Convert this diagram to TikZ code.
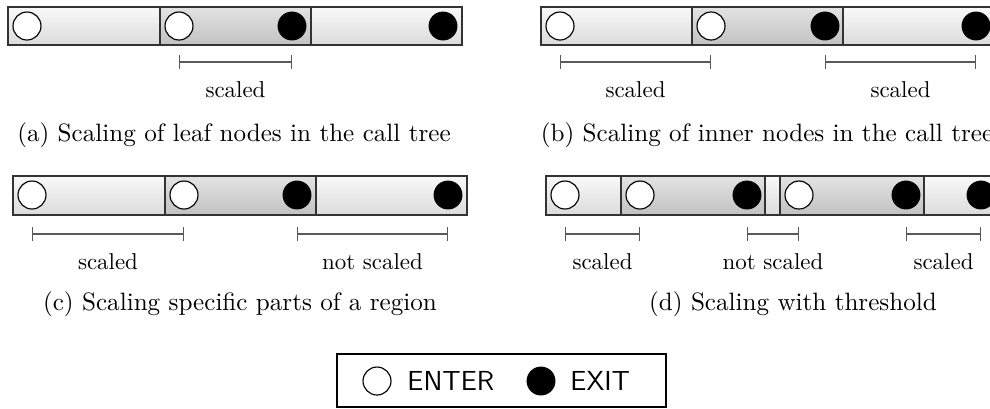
\documentclass[tikz,border=0pt]{standalone}
\usepackage{tikz}
\usetikzlibrary{arrows.meta}

\tikzset{
  segout/.style={draw=black!80, line width=0.6pt, top color=gray!5, bottom color=gray!28},
  segin/.style={draw=black!80, line width=0.6pt, top color=gray!22, bottom color=gray!48},
  enter/.style={circle, draw=black, fill=white, line width=0.5pt, minimum size=12.2pt, inner sep=0pt},
  exit/.style={circle, fill=black, minimum size=12.6pt, inner sep=0pt},
  scalebar/.style={draw=black!65, line width=0.6pt, {Bar[width=6pt]}-{Bar[width=6pt]}},
  spanlabel/.style={midway, below=5pt, text=black},
  subcap/.style={font=\fontsize{10.95}{13}\selectfont},
}

\begin{document}
\begin{tikzpicture}[x=0.436pt, y=-0.436pt]
    \useasboundingbox (0,0) rectangle (990,408);

    % (a) leaf nodes
    \foreach \l/\r/\s in {8/160/segout, 160/311/segin, 311/462/segout} {
        \draw[\s] (\l,7) rectangle (\r,45);
    }
    \node[enter] (a1) at (27,26) {};
    \node[enter] (a2) at (179,26) {};
    \node[exit] (a3) at (292,26) {};
    \node[exit] (a4) at (443,26) {};
    \draw[scalebar] (a2 |- 0,62) -- (a3 |- 0,62) node[spanlabel] {scaled};
    \node[subcap] (capa) at (234,135) {(a) Scaling of leaf nodes in the call tree};

    % (b) inner nodes
    \foreach \l/\r/\s in {541/692/segout, 692/843/segin, 843/994/segout} {
        \draw[\s] (\l,7) rectangle (\r,45);
    }
    \node[enter] (b1) at (560,26) {};
    \node[enter] (b2) at (711,26) {};
    \node[exit] (b3) at (825,26) {};
    \node[exit] (b4) at (976,26) {};
    \draw[scalebar] (b1 |- 0,62) -- (b2 |- 0,62) node[spanlabel] {scaled};
    \draw[scalebar] (b3 |- 0,62) -- (b4 |- 0,62) node[spanlabel] {scaled};
    \node[subcap] (capb) at (767,135) {(b) Scaling of inner nodes in the call tree};

    % (c) parts of a region
    \foreach \l/\r/\s in {13/165/segout, 165/316/segin, 316/467/segout} {
        \draw[\s] (\l,176) rectangle (\r,215);
    }
    \node[enter] (c1) at (32,195) {};
    \node[enter] (c2) at (184,195) {};
    \node[exit] (c3) at (297,195) {};
    \node[exit] (c4) at (448,195) {};
    \draw[scalebar] (c1 |- 0,234) -- (c2 |- 0,234) node[spanlabel] {scaled};
    \draw[scalebar] (c3 |- 0,234) -- (c4 |- 0,234) node[spanlabel] {not scaled};
    \node[subcap] (capc) at (240,304) {(c) Scaling specific parts of a region};

    % (d) threshold
    \foreach \l/\r/\s in {546/621/segout, 621/765/segin, 765/780/segout, 780/924/segin, 924/999/segout} {
        \draw[\s] (\l,176) rectangle (\r,215);
    }
    \node[enter] (d1) at (565,195) {};
    \node[enter] (d2) at (640,195) {};
    \node[exit] (d3) at (747,195) {};
    \node[enter] (d4) at (799,195) {};
    \node[exit] (d5) at (906,195) {};
    \node[exit] (d6) at (981,195) {};
    \draw[scalebar] (d1 |- 0,234) -- (d2 |- 0,234) node[spanlabel] {scaled};
    \draw[scalebar] (d3 |- 0,234) -- (d4 |- 0,234) node[spanlabel] {not scaled};
    \draw[scalebar] (d5 |- 0,234) -- (d6 |- 0,234) node[spanlabel] {scaled};
    \node[subcap] (capd) at (793,304) {(d) Scaling with threshold};

    % legend
    \draw[line width=0.6pt] (337,354) rectangle (666,407);
    \node[enter] (lgenter) at (377,381) {};
    \node[anchor=west, font=\sffamily\large, inner sep=0pt] (lgentertext) at (407,381) {ENTER};
    \node[exit] (lgexit) at (541,381) {};
    \node[anchor=west, font=\sffamily\large, inner sep=0pt] (lgexittext) at (570,381) {EXIT};
\end{tikzpicture}
\end{document}
